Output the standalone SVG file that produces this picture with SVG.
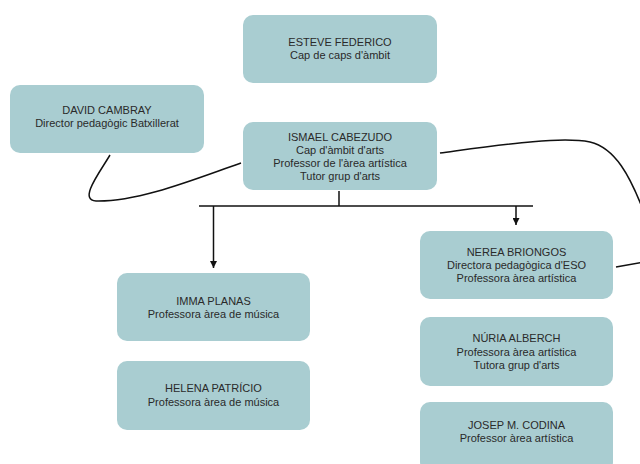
<svg xmlns="http://www.w3.org/2000/svg" width="640" height="464" viewBox="0 0 640 464">
<defs>
<marker id="arr" viewBox="0 0 10 10" refX="10" refY="5" markerWidth="7" markerHeight="7" orient="auto" markerUnits="userSpaceOnUse">
<path d="M0,0 L10,5 L0,10 Z" fill="#111"/>
</marker>
</defs>
<style>
.box{fill:#a9cdd1;}
.t{font-family:"Liberation Sans",Arial,sans-serif;font-size:11px;fill:#2a2a2a;text-anchor:middle;}
.c{fill:none;stroke:#111;stroke-width:1.5;}
</style>
<rect width="640" height="464" fill="#ffffff"/>
<g id="connectors">
<path class="c" d="M339,191 L339,206"/>
<path class="c" d="M199,206 L533,206"/>
<path class="c" d="M213.5,206 L213.5,268" marker-end="url(#arr)"/>
<path class="c" d="M516,206 L516,225" marker-end="url(#arr)"/>
<path class="c" d="M110,155 C100,172 78,200 96,201 C140,202 200,177 241,163"/>
<path class="c" d="M440,153 C500,145 560,136 590,142 C615,148 630,175 645,215"/>
<path class="c" d="M616,267 L645,262"/>
</g>
<g id="esteve">
<rect class="box" x="243" y="15" width="194" height="68" rx="10"/>
<text class="t" x="340" y="46">ESTEVE FEDERICO</text>
<text class="t" x="340" y="59">Cap de caps d'àmbit</text>
</g>
<g id="david">
<rect class="box" x="10" y="85" width="194" height="68" rx="10"/>
<text class="t" x="107" y="114">DAVID CAMBRAY</text>
<text class="t" x="107" y="127">Director pedagògic Batxillerat</text>
</g>
<g id="ismael">
<rect class="box" x="243" y="122" width="194" height="68" rx="10"/>
<text class="t" x="340" y="141">ISMAEL CABEZUDO</text>
<text class="t" x="340" y="154">Cap d'àmbit d'arts</text>
<text class="t" x="340" y="167">Professor de l'àrea artística</text>
<text class="t" x="340" y="180">Tutor grup d'arts</text>
</g>
<g id="imma">
<rect class="box" x="117" y="273" width="193" height="68" rx="10"/>
<text class="t" x="213.5" y="305">IMMA PLANAS</text>
<text class="t" x="213.5" y="318">Professora àrea de música</text>
</g>
<g id="helena">
<rect class="box" x="117" y="361" width="193" height="69" rx="10"/>
<text class="t" x="213.5" y="392">HELENA PATRÍCIO</text>
<text class="t" x="213.5" y="406">Professora àrea de música</text>
</g>
<g id="nerea">
<rect class="box" x="420" y="231" width="193" height="68" rx="10"/>
<text class="t" x="516.5" y="256">NEREA BRIONGOS</text>
<text class="t" x="516.5" y="269">Directora pedagògica d'ESO</text>
<text class="t" x="516.5" y="282">Professora àrea artística</text>
</g>
<g id="nuria">
<rect class="box" x="420" y="317" width="193" height="69" rx="10"/>
<text class="t" x="516.5" y="342">NÚRIA ALBERCH</text>
<text class="t" x="516.5" y="356">Professora àrea artística</text>
<text class="t" x="516.5" y="369">Tutora grup d'arts</text>
</g>
<g id="josep">
<rect class="box" x="420" y="402" width="193" height="70" rx="10"/>
<text class="t" x="516.5" y="429">JOSEP M. CODINA</text>
<text class="t" x="516.5" y="442">Professor àrea artística</text>
</g>
</svg>
